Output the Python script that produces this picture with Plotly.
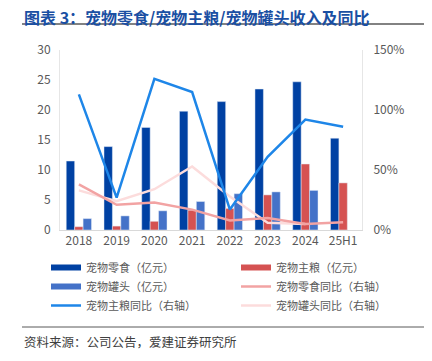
import plotly.graph_objects as go

categories = ["2018", "2019", "2020", "2021", "2022", "2023", "2024", "25H1"]
snack_rev = [11.5, 13.9, 17.1, 19.8, 21.4, 23.5, 24.7, 15.3]
staple_rev = [0.55, 0.65, 1.45, 3.3, 3.6, 5.85, 11.0, 7.85]
can_rev = [1.9, 2.35, 3.2, 4.75, 6.05, 6.35, 6.6, None]
snack_yoy = [0.38, 0.21, 0.23, 0.17, 0.08, 0.10, 0.05, 0.065]
staple_yoy = [1.13, 0.27, 1.26, 1.15, 0.17, 0.61, 0.92, 0.86]
can_yoy = [0.33, 0.24, 0.34, 0.53, 0.28, 0.06, 0.05, None]

C_SNACK = "#0041A3"
C_STAPLE = "#D55252"
C_CAN = "#4472C8"
C_STAPLE_YOY = "#1E86E8"
C_SNACK_YOY = "#F2A3A3"
C_CAN_YOY = "#FCDCDC"

FONT = "Noto Sans CJK SC"

fig = go.Figure()

fig.add_trace(go.Bar(x=categories, y=snack_rev, marker_color=C_SNACK, showlegend=False, yaxis="y"))
fig.add_trace(go.Bar(x=categories, y=staple_rev, marker_color=C_STAPLE, showlegend=False, yaxis="y"))
fig.add_trace(go.Bar(x=categories, y=can_rev, marker_color=C_CAN, showlegend=False, yaxis="y"))

fig.add_trace(go.Scatter(x=categories, y=can_yoy, mode="lines", line=dict(color=C_CAN_YOY, width=2.5), showlegend=False, yaxis="y2"))
fig.add_trace(go.Scatter(x=categories, y=snack_yoy, mode="lines", line=dict(color=C_SNACK_YOY, width=2.5), showlegend=False, yaxis="y2"))
fig.add_trace(go.Scatter(x=categories, y=staple_yoy, mode="lines", line=dict(color=C_STAPLE_YOY, width=2.5), showlegend=False, yaxis="y2"))

# legend entries: column 1 -> legend, column 2 -> legend2
legend_items = [
    ("宠物零食（亿元）", C_SNACK, 6, "legend"),
    ("宠物罐头（亿元）", C_CAN, 6, "legend"),
    ("宠物主粮同比（右轴）", C_STAPLE_YOY, 2.5, "legend"),
    ("宠物主粮（亿元）", C_STAPLE, 6, "legend2"),
    ("宠物零食同比（右轴）", C_SNACK_YOY, 2.5, "legend2"),
    ("宠物罐头同比（右轴）", C_CAN_YOY, 2.5, "legend2"),
]
for name, col, w, lg in legend_items:
    fig.add_trace(go.Scatter(x=[None], y=[None], mode="lines", name=name, legend=lg,
                             line=dict(color=col, width=w), showlegend=True))

leg_common = dict(orientation="v", yanchor="top", xanchor="left", tracegroupgap=0,
                  font=dict(size=11, color="#595959", family=FONT), itemwidth=30,
                  bgcolor="rgba(0,0,0,0)")

fig.update_layout(
    width=432, height=361,
    margin=dict(l=60, r=70, t=50, b=131, autoexpand=False),
    paper_bgcolor="white", plot_bgcolor="white",
    font=dict(family=FONT, size=12, color="#595959"),
    barmode="group", bargap=0.33, bargroupgap=0,
    xaxis=dict(type="category", showgrid=False, showline=True, linecolor="#D9D9D9", linewidth=1,
               ticks="", tickfont=dict(size=12, color="#595959")),
    yaxis=dict(range=[0, 30], dtick=5, showgrid=False, showline=True, linecolor="#E6E6E6", linewidth=1,
               zeroline=False, ticks="", tickfont=dict(size=12, color="#595959"), ticklabelstandoff=6),
    yaxis2=dict(range=[0, 1.5], dtick=0.5, tickformat=".0%", overlaying="y", side="right",
                showgrid=False, showline=True, linecolor="#E6E6E6", linewidth=1, zeroline=False,
                ticks="", tickfont=dict(size=12, color="#595959"), ticklabelstandoff=8),
    legend=dict(x=(46 - 60) / 302, y=(230 - 253) / 180, **leg_common),
    legend2=dict(x=(236 - 60) / 302, y=(230 - 253) / 180, **leg_common),
    showlegend=True,
)

fig.add_annotation(text="<b>图表 3：宠物零食/宠物主粮/宠物罐头收入及同比</b>", xref="paper", yref="paper",
                   x=(22 - 60) / 302, y=(230 - 3) / 180, xanchor="left", yanchor="top", showarrow=False,
                   font=dict(family=FONT, size=16, color="#1A4FA3"))
fig.add_annotation(text="资料来源：公司公告，爱建证券研究所", xref="paper", yref="paper",
                   x=(22 - 60) / 302, y=(230 - 330) / 180, xanchor="left", yanchor="top", showarrow=False,
                   font=dict(family=FONT, size=12.5, color="#404040"))

fig.add_shape(type="line", xref="paper", yref="paper", x0=(22 - 60) / 302, x1=(424 - 60) / 302,
              y0=(230 - 24) / 180, y1=(230 - 24) / 180, line=dict(color="#595959", width=1.5))
fig.add_shape(type="line", xref="paper", yref="paper", x0=(22 - 60) / 302, x1=(424 - 60) / 302,
              y0=(230 - 327) / 180, y1=(230 - 327) / 180, line=dict(color="#595959", width=1))

fig.write_html("out.html", post_script="document.body.style.margin='0';",
               config={"displayModeBar": False})
